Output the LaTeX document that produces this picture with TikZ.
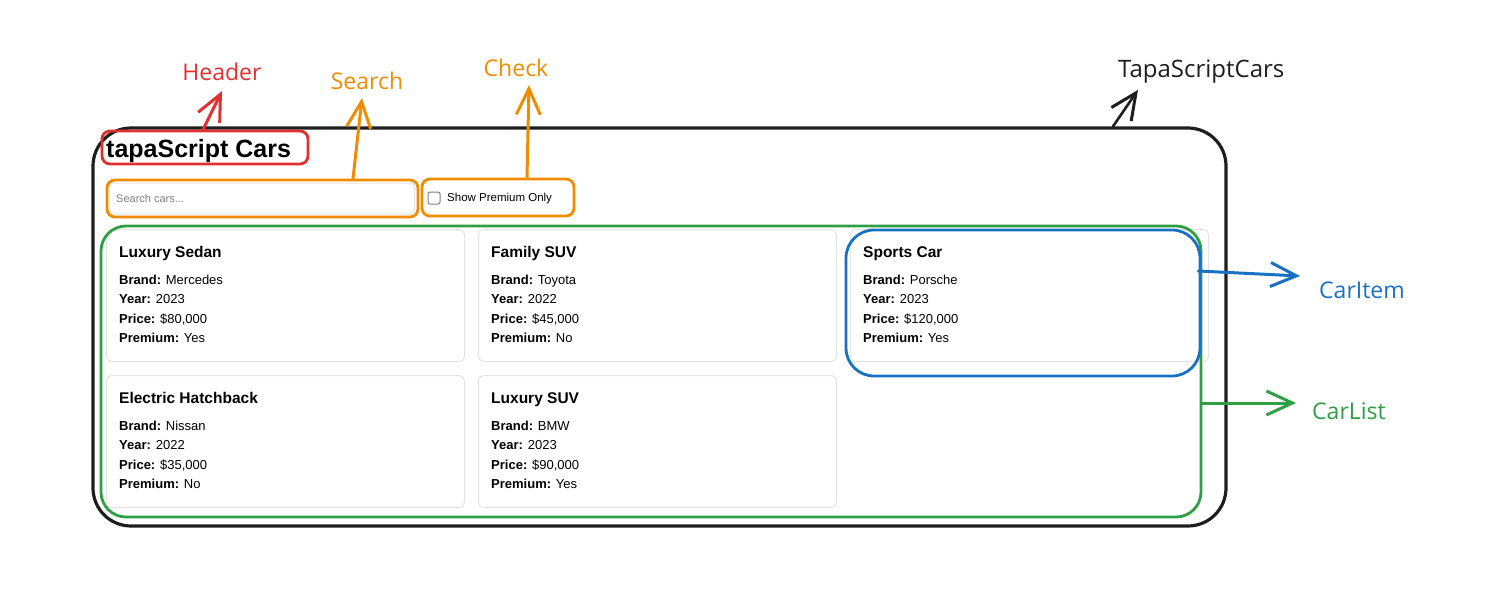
\documentclass[tikz,border=0pt]{standalone}
\usepackage{fontspec}
\setmainfont{Liberation Sans}
\newfontfamily\handfont{Open Sans}
\usetikzlibrary{positioning,arrows.meta}
\definecolor{inkblack}{HTML}{1E1E1E}
\definecolor{inkred}{HTML}{E03131}
\definecolor{inkorange}{HTML}{F08C00}
\definecolor{inkgreen}{HTML}{2F9E44}
\definecolor{inkblue}{HTML}{1971C2}
\definecolor{cardgray}{HTML}{E4E4E4}
\tikzstyle{frame} = [draw=inkblack, line width=3.2pt, rounded corners=38pt, inner sep=0pt]
\tikzstyle{card} = [draw=cardgray, fill=white, line width=1pt, rounded corners=5pt, minimum width=358pt, minimum height=132pt, inner sep=0pt, anchor=north west]
\tikzstyle{cardtitle} = [anchor=base west, inner sep=0pt, font=\fontsize{15.5}{18}\selectfont\bfseries]
\tikzstyle{cardline} = [anchor=base west, inner sep=0pt, font=\fontsize{13}{16}\selectfont]
\tikzstyle{arrow} = [line width=3pt, line cap=round, -{Straight Barb[length=26pt,width=24pt,line width=3pt]}]
\tikzstyle{tag} = [inner sep=0pt, font=\handfont\fontsize{23}{27}\selectfont]
\tikzset{hbox/.style={draw=#1, line width=2.8pt, rounded corners=8pt, inner sep=0pt}}
\newcommand{\carcard}[7]{%
  \node[card] (#1) at (#2) {};
  \node[cardtitle] (#1-title) at ([xshift=13pt,yshift=-28.5pt]#1.north west) {#3};
  \node[cardline] (#1-brand) at ([yshift=-26.5pt]#1-title.base west) {\textbf{Brand:} #4};
  \node[cardline] (#1-year) at ([yshift=-19.5pt]#1-brand.base west) {\textbf{Year:} #5};
  \node[cardline] (#1-price) at ([yshift=-19.5pt]#1-year.base west) {\textbf{Price:} #6};
  \node[cardline] (#1-premium) at ([yshift=-19.5pt]#1-price.base west) {\textbf{Premium:} #7};
}

\begin{document}
\begin{tikzpicture}[x=1pt,y=-1pt]
\useasboundingbox (0,0) rectangle (1491,592);
% app frame
\node[frame, minimum width=1133pt, minimum height=398pt] (app) at (659.5,327) {};
\node[tag, anchor=west, font=\handfont\fontsize{24}{28}\selectfont, text=inkblack] (apptag) at (1118,72) {TapaScriptCars};
\draw[arrow, inkblack, line width=2.6pt] ([xshift=453.5pt]app.north) -- ([xshift=20pt,yshift=-6pt]apptag.south west);
% header
\node[anchor=base west, inner sep=0pt, font=\fontsize{25}{30}\selectfont\bfseries] (title) at (106,157) {tapaScript Cars};
\node[hbox=inkred, minimum width=206pt, minimum height=33pt] (header) at (205,147.5) {};
\node[tag, text=inkred] (headertag) at (222,72) {Header};
\draw[arrow, inkred] ([xshift=-2pt]header.north) -- ([yshift=-10pt]headertag.south);
% search
\node[draw=cardgray, line width=1pt, rounded corners=4pt, minimum width=305pt, minimum height=31pt, inner sep=0pt] (input) at (262,198.5) {};
\node[anchor=west, inner sep=0pt, text=gray, font=\fontsize{11}{13}\selectfont] (placeholder) at (116,198.5) {Search cars...};
\node[hbox=inkorange, minimum width=311pt, minimum height=37pt] (search) at (262.5,198.5) {};
\node[tag, text=inkorange] (searchtag) at (367,81) {Search};
\draw[arrow, inkorange] ([xshift=90.5pt]search.north) -- ([xshift=-5pt,yshift=-8pt]searchtag.south);
% premium check
\node[draw=gray, line width=1pt, rounded corners=2pt, minimum size=12pt, inner sep=0pt] (box) at (434,198) {};
\node[anchor=west, inner sep=0pt, font=\fontsize{11.5}{14}\selectfont] (boxtext) at (447,198.5) {Show Premium Only};
\node[hbox=inkorange, minimum width=152pt, minimum height=37pt] (check) at (498,197.5) {};
\node[tag, text=inkorange] (checktag) at (516,68) {Check};
\draw[arrow, inkorange] ([xshift=29pt]check.north) -- ([xshift=13pt,yshift=-8pt]checktag.south);
% cars
\carcard{sedan}{106,229}{Luxury Sedan}{Mercedes}{2023}{\$80,000}{Yes}
\carcard{family}{478,229}{Family SUV}{Toyota}{2022}{\$45,000}{No}
\carcard{sports}{850,229}{Sports Car}{Porsche}{2023}{\$120,000}{Yes}
\carcard{electric}{106,375}{Electric Hatchback}{Nissan}{2022}{\$35,000}{No}
\carcard{suv}{478,375}{Luxury SUV}{BMW}{2023}{\$90,000}{Yes}
% car list
\node[hbox=inkgreen, rounded corners=25pt, minimum width=1100pt, minimum height=291pt] (list) at (651,371.5) {};
\node[tag, anchor=west, text=inkgreen] (listtag) at (1312,411) {CarList};
\draw[arrow, inkgreen] ([yshift=-31.5pt]list.east) -- ([xshift=-16pt,yshift=8pt]listtag.west);
% car item
\node[hbox=inkblue, rounded corners=28pt, minimum width=354pt, minimum height=146pt] (item) at (1023,303) {};
\node[tag, anchor=west, text=inkblue] (itemtag) at (1319,290) {CarItem};
\draw[arrow, inkblue] ([xshift=-3pt,yshift=32pt]item.east) -- ([xshift=-19pt,yshift=14pt]itemtag.west);
\end{tikzpicture}
\end{document}
